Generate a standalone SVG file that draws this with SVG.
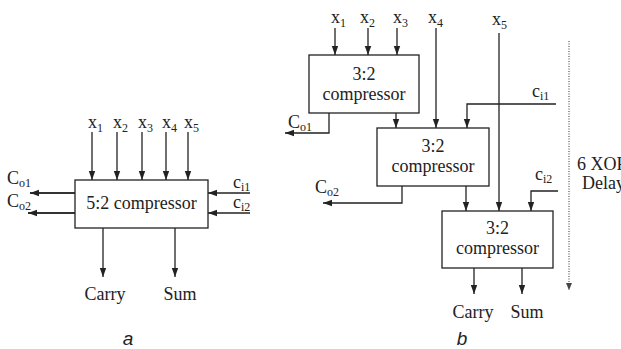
<svg xmlns="http://www.w3.org/2000/svg" width="621" height="349" viewBox="0 0 621 349">
<defs>
<marker id="ah" markerUnits="userSpaceOnUse" markerWidth="10" markerHeight="8" refX="9" refY="4" orient="auto">
<path d="M0,0.8 L9,4 L0,7.2 Z" fill="#222"/>
</marker>
<marker id="ahs" markerUnits="userSpaceOnUse" markerWidth="8" markerHeight="8" refX="7" refY="3.5" orient="auto">
<path d="M0,0.5 L7,3.5 L0,6.5 Z" fill="#444"/>
</marker>
</defs>
<style>
.box{fill:#fff;stroke:#222;stroke-width:1.3}
.w{fill:none;stroke:#222;stroke-width:1.3;marker-end:url(#ah)}
.wt{fill:none;stroke:#333;stroke-width:2.2;marker-end:url(#ah)}
.t{font-family:"Liberation Serif","Times New Roman",serif;font-size:18px;fill:#222}
.c{text-anchor:middle}
.s{font-size:12px}
.cap{font-family:"Liberation Sans",Arial,sans-serif;font-style:italic;font-size:19px;fill:#222;text-anchor:middle}
.dot{fill:none;stroke:#555;stroke-width:1.2;stroke-dasharray:1 1.5;marker-end:url(#ahs)}
</style>
<rect width="621" height="349" fill="#fff"/>

<g id="connectors">
<!-- diagram a -->
<line class="w" x1="92" y1="132" x2="92" y2="180"/>
<line class="w" x1="117" y1="132" x2="117" y2="180"/>
<line class="w" x1="142" y1="132" x2="142" y2="180"/>
<line class="w" x1="166" y1="132" x2="166" y2="180"/>
<line class="w" x1="188" y1="132" x2="188" y2="180"/>
<line class="wt" x1="75" y1="193" x2="30" y2="193"/>
<line class="wt" x1="75" y1="213" x2="28" y2="213"/>
<line class="w" x1="250" y1="193" x2="208" y2="193"/>
<line class="w" x1="250" y1="213" x2="208" y2="213"/>
<line class="w" x1="103" y1="228" x2="103" y2="277"/>
<line class="w" x1="175" y1="228" x2="175" y2="277"/>
<!-- diagram b -->
<line class="w" x1="335" y1="28" x2="335" y2="55"/>
<line class="w" x1="368" y1="28" x2="368" y2="55"/>
<line class="w" x1="397" y1="28" x2="397" y2="55"/>
<line class="w" x1="436" y1="28" x2="436" y2="128"/>
<line class="w" x1="499" y1="33" x2="499" y2="211"/>
<line class="w" x1="396" y1="113" x2="396" y2="128"/>
<path class="w" d="M329 113 V133 H285"/>
<path class="w" d="M556 104 H467 V128"/>
<line class="w" x1="466" y1="186" x2="466" y2="211"/>
<path class="w" d="M402 186 V203 H323"/>
<path class="w" d="M558 191 H531 V211"/>
<line class="w" x1="474" y1="268" x2="474" y2="294"/>
<line class="w" x1="522" y1="268" x2="522" y2="294"/>
<line class="dot" x1="569" y1="41" x2="569" y2="290"/>
</g>

<g id="a-compressor">
<rect class="box" x="75" y="180" width="133" height="48"/>
<text class="t c" x="141.5" y="209">5:2 compressor</text>
</g>
<g id="a-labels">
<text class="t" x="88" y="128">x<tspan class="s" dy="4">1</tspan></text>
<text class="t" x="113" y="128">x<tspan class="s" dy="4">2</tspan></text>
<text class="t" x="138" y="128">x<tspan class="s" dy="4">3</tspan></text>
<text class="t" x="162" y="128">x<tspan class="s" dy="4">4</tspan></text>
<text class="t" x="184" y="128">x<tspan class="s" dy="4">5</tspan></text>
<text class="t" x="7" y="184">C<tspan class="s" dy="3">o1</tspan></text>
<text class="t" x="7" y="207">C<tspan class="s" dy="3">o2</tspan></text>
<text class="t" x="233" y="188">c<tspan class="s" dy="3">i1</tspan></text>
<text class="t" x="233" y="208">c<tspan class="s" dy="3">i2</tspan></text>
<text class="t c" x="105" y="300">Carry</text>
<text class="t c" x="180" y="300">Sum</text>
<text class="cap" x="128" y="345">a</text>
</g>

<g id="b-compressor1">
<rect class="box" x="309" y="55" width="110" height="58"/>
<text class="t c" x="364" y="80">3:2</text>
<text class="t c" x="364" y="100">compressor</text>
</g>
<g id="b-compressor2">
<rect class="box" x="377" y="128" width="112" height="58"/>
<text class="t c" x="433" y="152">3:2</text>
<text class="t c" x="433" y="172">compressor</text>
</g>
<g id="b-compressor3">
<rect class="box" x="442" y="211" width="111" height="57"/>
<text class="t c" x="497.5" y="234">3:2</text>
<text class="t c" x="497.5" y="254">compressor</text>
</g>
<g id="b-labels">
<text class="t" x="331" y="23">x<tspan class="s" dy="4">1</tspan></text>
<text class="t" x="360" y="23">x<tspan class="s" dy="4">2</tspan></text>
<text class="t" x="393" y="23">x<tspan class="s" dy="4">3</tspan></text>
<text class="t" x="428" y="23">x<tspan class="s" dy="4">4</tspan></text>
<text class="t" x="492" y="25">x<tspan class="s" dy="4">5</tspan></text>
<text class="t" x="288" y="128">C<tspan class="s" dy="3">o1</tspan></text>
<text class="t" x="315" y="193">C<tspan class="s" dy="3">o2</tspan></text>
<text class="t" x="532" y="97">c<tspan class="s" dy="3">i1</tspan></text>
<text class="t" x="535" y="180">c<tspan class="s" dy="3">i2</tspan></text>
<text class="t" x="577" y="170">6 XOR</text>
<text class="t" x="582" y="189">Delay</text>
<text class="t c" x="473" y="318">Carry</text>
<text class="t c" x="527" y="318">Sum</text>
<text class="cap" x="462" y="345">b</text>
</g>
</svg>
